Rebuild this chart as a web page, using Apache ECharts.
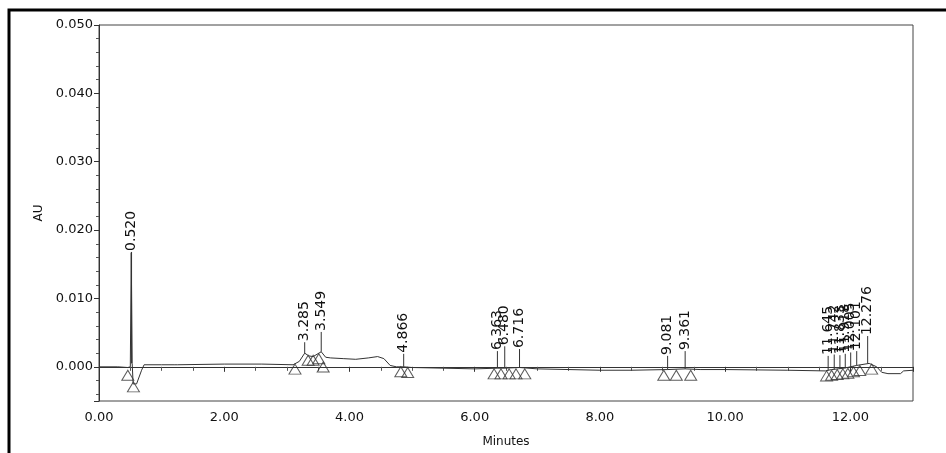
<!DOCTYPE html>
<html style="height: 100%">
<head>
    <meta charset="utf-8">
    <script type="text/javascript" src="https://cdn.jsdelivr.net/npm/echarts@6/dist/echarts.min.js"></script>
</head>
<body style="height: 100%; margin: 0; background: #fff">
    <div id="main" style="width: 946px; height: 453px"></div>
    <script type="text/javascript">
        // trace: time (min), absorbance (AU)
        var traceT = [0, 0.30, 0.46, 0.50, 0.515, 0.53, 0.545, 0.60, 0.68, 0.72, 1.00, 1.20, 1.22, 1.25, 2.00, 2.60, 3.10,
            3.20, 3.285, 3.35, 3.42, 3.549, 3.62, 3.70, 3.90, 4.10, 4.30, 4.45, 4.55, 4.65, 4.75, 4.866, 5.00, 5.50,
            6.00, 6.363, 6.48, 6.716, 7.00, 8.00, 8.50, 9.081, 9.361, 9.60, 10.00, 11.00, 11.60, 11.70, 11.90, 12.10,
            12.30, 12.42, 12.50, 12.60, 12.80, 12.85, 13.00];
        var traceAU = [0, 0, -0.0001, 0, 0.0167, 0.0005, -0.0025, -0.0025, -0.0005, 0.0003, 0.0003, 0.0003, 0.0001, 0.0003, 0.0004, 0.0004, 0.0003,
            0.0008, 0.0020, 0.0016, 0.0015, 0.0022, 0.0014, 0.0013, 0.0012, 0.0011, 0.0013, 0.0015, 0.0012, 0.0002, 0, 0, -0.0001, -0.0002,
            -0.0003, -0.0002, -0.0002, -0.0001, -0.0003, -0.0005, -0.0005, -0.0004, -0.0003, -0.0004, -0.0004, -0.0005, -0.0006, -0.0004, -0.0002, 0.0002,
            0.0005, 0, -0.0008, -0.0010, -0.0010, -0.0006, -0.0005];

        // integration markers (hollow triangles)
        var markT = [0.46, 0.55, 3.13, 3.34, 3.42, 3.51, 3.58, 4.82, 4.93, 6.31, 6.42, 6.55, 6.66, 6.80, 9.02, 9.22, 9.45,
            11.62, 11.70, 11.79, 11.88, 11.96, 12.05, 12.15, 12.34];
        var markAU = [-0.0005, -0.0022, 0.0004, 0.0017, 0.0017, 0.0019, 0.0007, 0, -0.0001, -0.0003, -0.0003, -0.0003, -0.0003, -0.0003, -0.0005, -0.0005, -0.0005,
            -0.0006, -0.0005, -0.0004, -0.0003, -0.0002, 0, 0.0002, 0.0004];

        // peak retention times, stem start and label start (AU)
        var peakT = [0.520, 3.285, 3.549, 4.866, 6.363, 6.480, 6.716, 9.081, 9.361, 11.645, 11.742, 11.833, 11.918, 12.005, 12.101, 12.276];
        var peakAU = [0.0005, 0.0020, 0.0022, 0, -0.0002, -0.0002, -0.0001, -0.0004, -0.0003, -0.0005, -0.0004, -0.0003, -0.0002, 0, 0.0002, 0.0005];
        var labelAU = [0.0168, 0.0036, 0.0051, 0.0019, 0.0023, 0.0030, 0.0026, 0.0016, 0.0023, 0.0016, 0.0018, 0.0017, 0.0019, 0.0021, 0.0023, 0.0045];

        var yTicks = [0, 0.01, 0.02, 0.03, 0.04, 0.05];
        var xTicks = [0, 2, 4, 6, 8, 10, 12];

        var FONT = 'DejaVu Sans';
        var INK = '#111';

        var trace = traceT.map(function (t, i) { return [t, traceAU[i]]; });
        var marks = markT.map(function (t, i) { return [t, markAU[i]]; });
        var peaks = peakT.map(function (t, i) { return [t, peakAU[i], labelAU[i], t.toFixed(3)]; });

        var chart = echarts.init(document.getElementById('main'));
        var option = {
            animation: false,
            backgroundColor: '#fff',
            graphic: [{
                type: 'rect',
                shape: { x: 9, y: 10, width: 1000, height: 500 },
                style: { fill: 'none', stroke: '#000', lineWidth: 3 },
                silent: true
            }],
            grid: {
                left: 99, right: 33, top: 25, bottom: 51,
                show: true, borderColor: '#444', borderWidth: 1
            },
            xAxis: {
                type: 'value',
                min: 0, max: 13, interval: 2,
                name: 'Minutes',
                nameLocation: 'middle',
                nameGap: 35,
                nameTextStyle: { fontFamily: FONT, fontSize: 12, color: INK },
                axisLine: { lineStyle: { color: '#333' } },
                axisTick: { length: 5, lineStyle: { color: '#333' } },
                minorTick: { show: true, splitNumber: 4, length: 4, lineStyle: { color: '#555' } },
                splitLine: { show: false },
                axisLabel: {
                    margin: 10, fontFamily: FONT, fontSize: 13, color: INK,
                    showMaxLabel: false,
                    formatter: function (v) { return xTicks.indexOf(v) >= 0 ? v.toFixed(2) : ''; }
                }
            },
            yAxis: {
                type: 'value',
                min: -0.005, max: 0.05, splitNumber: 5,
                name: 'AU',
                nameLocation: 'middle',
                nameGap: 53,
                nameTextStyle: { fontFamily: FONT, fontSize: 12, color: INK },
                axisLine: { show: true, lineStyle: { color: '#333' } },
                axisTick: { show: true, length: 5, lineStyle: { color: '#333' } },
                minorTick: { show: true, splitNumber: 5, length: 3, lineStyle: { color: '#555' } },
                splitLine: { show: false },
                axisLabel: {
                    margin: 6, fontFamily: FONT, fontSize: 13, color: INK,
                    formatter: function (v) {
                        var hit = yTicks.some(function (t) { return Math.abs(t - v) < 1e-9; });
                        return hit ? v.toFixed(3) : '';
                    }
                }
            },
            series: [
                {
                    type: 'line',
                    data: trace,
                    showSymbol: false,
                    lineStyle: { color: '#333', width: 1 },
                    silent: true,
                    z: 3
                },
                {
                    type: 'scatter',
                    data: marks,
                    symbol: 'triangle',
                    symbolSize: [12, 10],
                    symbolOffset: [0, '50%'],
                    itemStyle: { color: 'rgba(0,0,0,0)', borderColor: '#333', borderWidth: 1 },
                    silent: true,
                    z: 4
                },
                {
                    type: 'custom',
                    data: peaks,
                    silent: true,
                    z: 5,
                    renderItem: function (params, api) {
                        var p0 = api.coord([api.value(0), api.value(1)]);
                        var p1 = api.coord([api.value(0), api.value(2)]);
                        return {
                            type: 'group',
                            children: [{
                                type: 'line',
                                shape: { x1: p0[0], y1: p0[1], x2: p1[0], y2: p1[1] },
                                style: { stroke: '#333', lineWidth: 1 }
                            }, {
                                type: 'text',
                                x: p1[0], y: p1[1] - 1,
                                rotation: Math.PI / 2,
                                style: {
                                    text: peaks[params.dataIndex][3],
                                    fontFamily: FONT, fontSize: 14, fill: INK,
                                    align: 'left', verticalAlign: 'middle'
                                }
                            }]
                        };
                    }
                }
            ]
        };
        chart.setOption(option);
    </script>
</body>
</html>
